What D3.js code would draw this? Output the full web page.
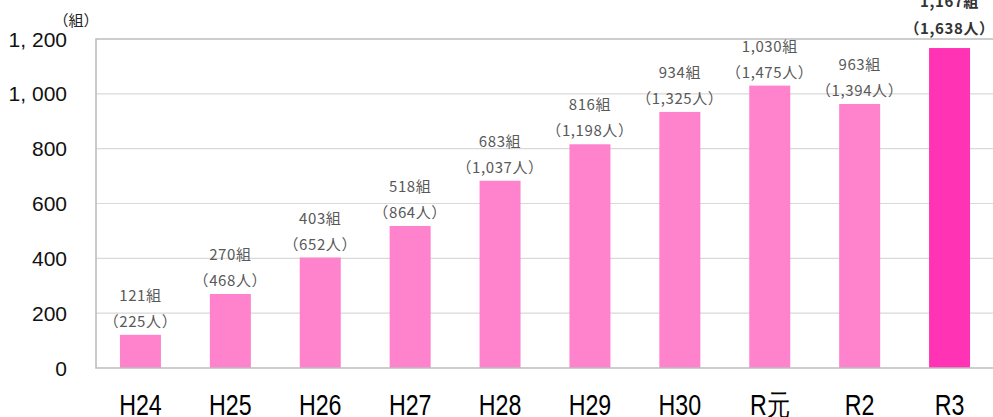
<!DOCTYPE html>
<html><head><meta charset="utf-8">
<script src="https://cdn.jsdelivr.net/npm/d3@7/dist/d3.min.js"></script>
<style>body{margin:0;background:#fff}svg{display:block}</style>
</head><body>
<svg id="c" width="993" height="417"></svg>
<script>
const categories = ["H24","H25","H26","H27","H28","H29","H30","R元","R2","R3"];
const groups = [121,270,403,518,683,816,934,1030,963,1167];
const people = [225,468,652,864,1037,1198,1325,1475,1394,1638];
const yTicks = [0,200,400,600,800,1000,1200];
const yTickLabels = ["0","200","400","600","800","1, 000","1, 200"];
const unitLabel = "（組）";

const svg = d3.select("#c");
const x = d3.scaleBand().domain(categories).range([95.5,994.5]).paddingInner(0.544).paddingOuter(0.272);
const y = d3.scaleLinear().domain([0,1200]).range([368,39]);
const fmt = d3.format(",");

// gridlines
svg.append("g").selectAll("line").data(yTicks.slice(1,-1)).join("line")
  .attr("x1",96).attr("x2",993).attr("y1",d=>y(d)).attr("y2",d=>y(d))
  .attr("stroke","#d9d9d9").attr("stroke-width",1.2);

// bars
svg.append("g").selectAll("rect").data(categories).join("rect")
  .attr("x",d=>x(d)).attr("width",x.bandwidth())
  .attr("y",(d,i)=>y(groups[i])).attr("height",(d,i)=>y(0)-y(groups[i]))
  .attr("fill",(d,i)=>i===categories.length-1?"#ff33b4":"#ff82cc");

// border
svg.append("path").attr("d",`M996,${y(1200)}H96V${y(0)}H996`)
  .attr("fill","none").attr("stroke","#bdbdbd").attr("stroke-width",1.6);

// y axis labels
svg.append("g").selectAll("text").data(yTicks).join("text")
  .attr("x",67).attr("y",d=>y(d)).attr("dy","0.36em").attr("text-anchor","end")
  .attr("font-family","Liberation Sans, Arial, sans-serif").attr("font-size",21).attr("fill","#111")
  .text((d,i)=>yTickLabels[i]);

svg.append("text").attr("x",76).attr("y",26).attr("text-anchor","middle")
  .attr("font-family","Noto Sans CJK JP, sans-serif").attr("font-size",15).attr("fill","#222")
  .text(unitLabel);

// x labels (condensed)
svg.append("g").selectAll("text").data(categories).join("text")
  .attr("transform",d=>`translate(${x(d)+x.bandwidth()/2},415) scale(0.8,1)`)
  .attr("text-anchor","middle")
  .attr("font-family","Liberation Sans, Arial, sans-serif").attr("font-size",29).attr("fill","#000")
  .text(d=>d);

// data labels
const last = categories.length-1;
const lab = svg.append("g").attr("font-family","Noto Sans CJK JP, sans-serif").attr("font-size",15)
  .attr("text-anchor","middle").attr("letter-spacing","0.6px");
categories.forEach((c,i)=>{
  const cx = x(c)+x.bandwidth()/2;
  const hi = i===last;
  const top = y(groups[i]);
  lab.append("text").attr("x",cx).attr("y",top-(hi?41:34))
    .attr("fill",hi?"#333":"#595959").attr("font-weight",hi?"bold":"normal")
    .text(fmt(groups[i])+"組");
  lab.append("text").attr("x",cx).attr("y",top-(hi?14:8))
    .attr("fill",hi?"#333":"#595959").attr("font-weight",hi?"bold":"normal")
    .text("（"+fmt(people[i])+"人）");
});
</script>
</body></html>
